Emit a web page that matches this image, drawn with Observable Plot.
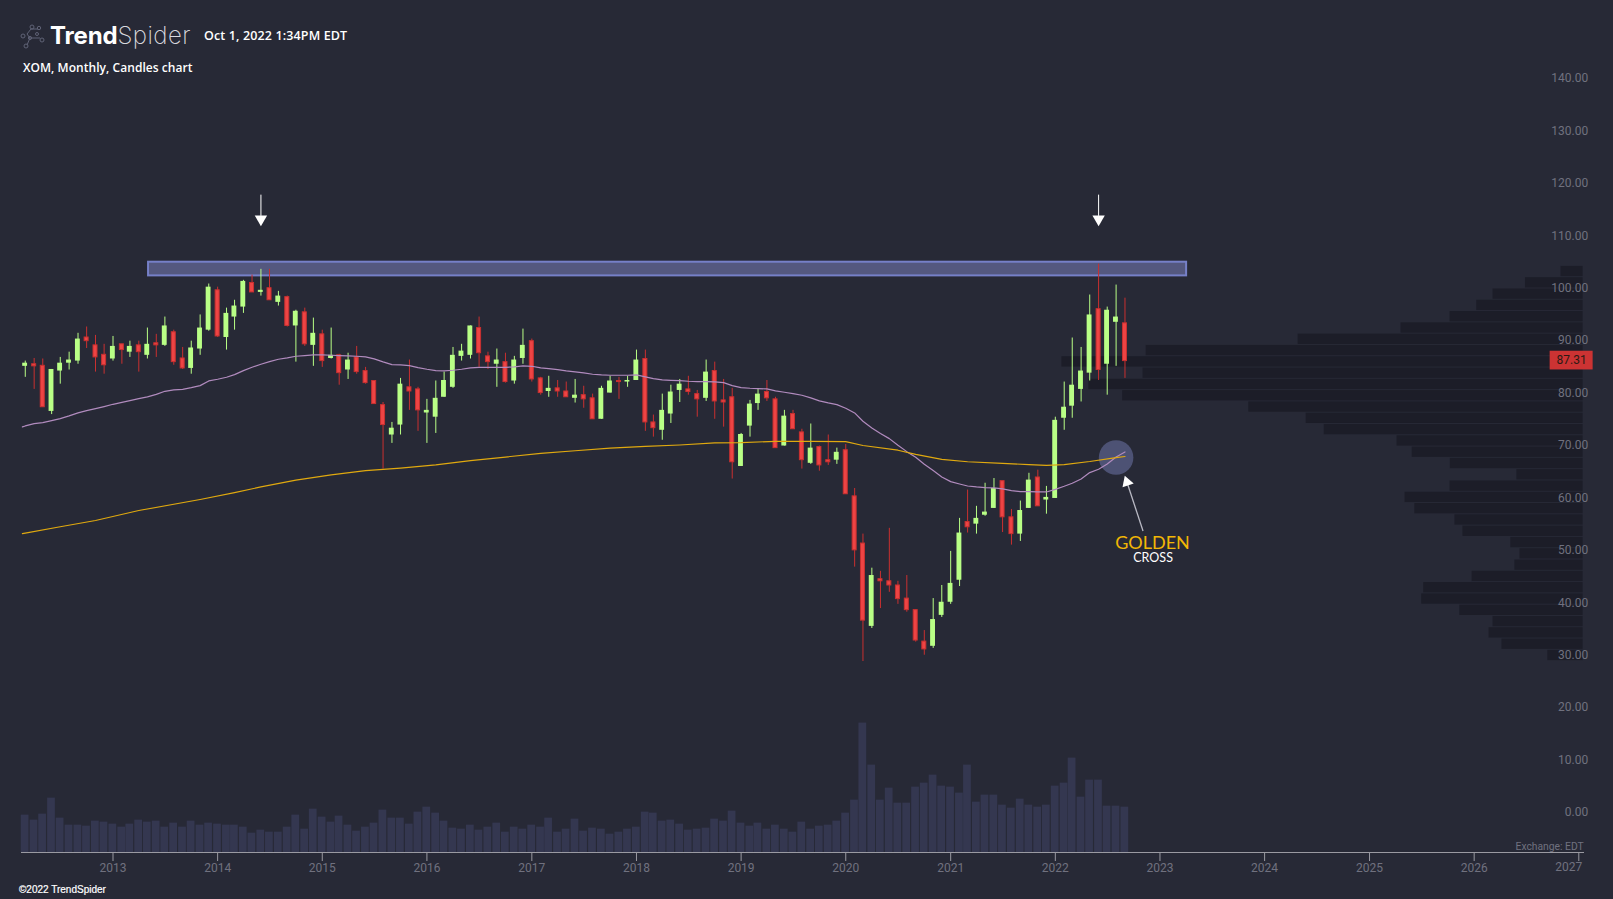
<!DOCTYPE html>
<html><head><meta charset="utf-8">
<script src="https://cdn.jsdelivr.net/npm/d3@7"></script>
<script src="https://cdn.jsdelivr.net/npm/@observablehq/plot@0.6"></script>
<style>
html,body{margin:0;padding:0;background:#272936;width:1613px;height:899px;overflow:hidden}
#wrap{position:relative;width:1613px;height:899px}
.h{position:absolute;white-space:nowrap;color:#fff}
</style></head><body>
<div id="wrap">
<div id="chart"></div>
<svg class="h" style="left:18px;top:24px" width="28" height="26" viewBox="0 0 28 26" fill="none" stroke="#5f6276" stroke-width="1">
<path d="M9 10 L13 5 M9 10 L12 14 M12 14 L9 21 M12 14 L22 14 M13 5 L20 5"/>
<circle cx="5" cy="12" r="2"/><circle cx="14" cy="3" r="2"/><circle cx="21" cy="4" r="1.7"/><circle cx="12" cy="14" r="1.6"/><circle cx="8" cy="22" r="2"/><circle cx="24" cy="16" r="2"/><circle cx="19" cy="10" r="1.5"/>
</svg>
<div class="h" style="left:50px;top:21px;font:700 24px/30px Inter,'Open Sans';letter-spacing:-.15px">Trend<span style="font-weight:200;color:#d8d8de;letter-spacing:.45px">Spider</span></div>
<div class="h" style="left:204px;top:27px;font:600 12.5px/18px 'Open Sans';letter-spacing:.13px">Oct 1, 2022 1:34PM EDT</div>
<div class="h" style="left:23px;top:59px;font:600 12px/18px 'Open Sans';letter-spacing:.05px">XOM, Monthly, Candles chart</div>
<div class="h" style="left:19px;top:883px;font:400 10px/14px 'Liberation Sans';-webkit-text-stroke:.2px #fff">©2022 TrendSpider</div>
</div>
<script>
const opens=[85.1,85.5,85.2,76.5,84.2,85.7,86.1,90.6,89.1,87.3,86.5,89.3,87.8,89.1,87.2,89.5,89.1,91.6,86.6,84.7,88.4,92,99.6,90.6,94.5,96.4,101,99.2,100,97.3,98.3,92.8,95.4,89.1,91.2,86.6,87.2,84.4,86.8,84.2,82.3,77.7,72,73.9,81.1,80.7,76.2,75.4,79.2,81.1,87,87.2,92.4,87,85.5,85.9,82.3,86.6,89.9,82.8,80.3,80.9,80.3,79,79.6,79,75,80,82.3,82.1,82.4,86.5,74.4,72.9,76,80.5,80.7,79.8,79,84.2,78.6,79.2,66,73.7,78,80.2,78.8,69.9,76,72.5,66.6,69.7,67.2,67.2,69.1,60.3,51.3,35.5,44.5,44.1,43.3,40.8,38.6,32.6,31.7,37.6,40.1,44.3,55.4,55,56.7,58,63.2,56.3,53.1,58,63.9,59.6,59.9,75.2,77.5,80.7,83.8,96,85.5,93.5,93.3];
const highs=[86.1,86.6,86.5,84.5,86.8,87.8,91.4,92.6,91,89.3,90.8,89.3,89.9,89.9,92.4,91.2,94.5,92,88.7,89.9,94.9,100.8,100.2,96.2,97.7,101.5,102.5,103.6,103.6,99.4,98.5,95.8,96.2,94.3,92,92.4,87.4,87.6,88.9,84.9,82.4,78.2,74.4,82.8,86.3,81.1,78.8,82.3,84,88.7,89.3,92.8,94.5,87.8,88.4,87.6,87,92.2,90.3,83,83.2,82.4,82.1,82.6,81.3,79.8,81.3,83.2,83,83.2,88.2,88.2,75.8,79.8,81.5,82.6,83.2,80.5,86.3,85.9,82.6,80.9,72.3,78.6,80.7,82.4,79.2,76.7,76.7,73.1,74.1,69.9,72,69.5,70.2,61.8,53.1,46.6,46,54.2,44.1,45.2,38.7,34.7,40.8,43.3,49.8,56.1,61.5,58.4,62.8,63.7,63.2,57.8,59.4,64.7,65.3,62.2,75.4,82.1,90.5,88.7,98.7,104.6,96.4,100.6,98.1];
const lows=[83,80.7,77.3,75.9,81.7,84.4,85.5,88.5,84,83.6,86.1,85.5,86.8,84,86.5,86.8,88.9,85.3,84.5,83.6,87.2,91.8,90.6,88.2,92,95.2,99.2,98.5,97.7,96.6,92.6,85.9,88.9,85.1,84.9,86.5,81.5,82.6,83.6,81.7,77.9,65.5,70.4,72,76.7,72.7,70.4,72.3,79.2,80.9,86.1,86.5,84.9,84.5,81.1,81.9,81.7,85.5,82.1,79.6,79.2,79.2,79.2,78.1,77.1,75,75,80,78.8,81.1,82.4,72.7,71.6,71,74.2,78.2,79.6,75.4,78.4,75,73.5,63.6,66,71.6,76.7,78.4,69.5,69.9,73.1,65.5,66.4,65.1,66.2,66.4,60.7,46.8,28.8,35.1,38.9,42,39.7,38.2,32.5,30,31.3,37.2,39.7,43.1,53.3,53.1,56.5,58,53.4,51,51.7,58,58.4,56.9,59.9,72.9,75.2,78.3,82.3,82.4,79.6,85.1,82.8];
const closes=[85.7,85.1,77.3,84.5,85.7,86.3,90.3,89.9,86.8,85.3,88.9,88.2,88.9,87.8,89.3,89.1,92.8,85.9,84.7,88.6,92.4,100.2,90.8,95.2,96.6,101.3,99.2,99.6,97.7,98.5,92.8,95.6,89.3,91.4,86.1,87.2,83.8,86.3,84,81.9,77.9,73.9,73.3,81.7,80.3,76.7,76.7,79,82.4,87.2,88,92.8,87.6,85.9,86.3,82.1,86.3,89.1,82.6,80,80.9,80.3,79.2,79.6,78.8,75,80.9,82.3,82.1,82.4,86.3,74.4,73.3,76.7,80.2,81.7,80.2,78.8,84,78.4,78.2,66.8,72.1,77.9,79.8,79,69.5,75.6,73.1,67.2,69.5,66.2,66.8,68.7,60.7,50,36.6,45.2,44.1,43.3,40.7,38.6,32.8,31.1,36.8,40.1,43.7,53.3,54.4,56.1,57.3,61.8,56.3,53.1,57.6,63.4,58.4,60.1,74.8,77.3,81.5,84.2,94.9,84.4,95.8,94.5,86.1];
const volumes=[224,194,230,326,206,164,164,158,188,182,170,152,170,194,182,188,152,176,152,188,164,176,170,164,164,152,116,134,122,122,152,224,140,260,212,182,218,164,128,152,176,254,206,206,170,242,272,236,188,146,140,164,134,152,176,122,152,140,164,152,206,122,140,200,128,146,140,110,122,140,152,242,236,188,194,170,134,140,146,200,188,248,176,158,176,140,164,140,122,182,140,158,164,188,236,314,776,524,314,386,296,296,392,416,464,398,392,356,524,302,344,344,284,266,320,284,272,284,398,416,566,332,434,434,278,278,272];
const fastMA=[73.73,74.17,74.36,74.75,75.13,75.64,76.21,76.65,77.03,77.42,77.86,78.24,78.56,78.94,79.26,79.74,80.34,80.6,80.72,81.04,81.42,82.32,82.63,83.02,83.52,84.29,84.92,85.5,86,86.45,86.7,87.02,87.15,87.28,87.28,87.21,87.15,87.09,87.02,86.9,86.51,85.94,85.43,85.37,85.24,84.86,84.54,84.29,84.22,84.35,84.54,84.8,84.92,84.92,84.92,84.92,84.99,85.18,85.11,84.8,84.67,84.48,84.22,84.03,83.84,83.59,83.46,83.4,83.4,83.4,83.46,83.08,82.76,82.51,82.44,82.38,82.25,82.19,82.19,82.12,82,81.43,81.04,80.92,80.85,80.79,80.41,80.16,79.9,79.58,79.08,78.5,78.12,77.8,77.1,76.21,74.62,73.35,72.27,71.31,70.04,68.83,67.75,66.42,65.21,64,63.11,62.66,62.28,62.09,61.96,61.9,61.71,61.39,61.2,61.2,61.14,61.14,61.64,62.22,62.79,63.62,64.83,65.46,66.48,67.82,68.77];
const slowMonths=[0,4,8,13,20,24,27,31,35,39,43,47,51,55,59,63,67,71,75,79,82,86,90,94,96,100,102,105,108,112,115,117,119,122,125,126];
const slowMA=[53.3,54.5,55.7,57.6,59.7,61,62.1,63.4,64.4,65.2,65.7,66.3,67.1,67.8,68.5,69,69.5,69.85,70.1,70.5,70.55,70.8,70.77,70.74,70,69.1,68.3,67.35,66.9,66.6,66.35,66.2,66.35,66.95,67.7,67.9];
const profile=[66,172,270,319,399,546,854,1310,1563,1320,1482,1381,1002,830,776,558,512,398,198,399,534,504,384,360,216,189,204,332,478,484,369,270,282,243,105];
const yearLabels=d3.range(2013,2028);
const priceLabels=d3.range(0,150,10);
const lineStart=new Date("2012-02-20"), fastStart=73.54, slowStart=53.2;

const month=i=>new Date(Date.UTC(2012,2+i,1));
const bars=opens.map((o,i)=>({date:month(i),o,h:highs[i],l:lows[i],c:closes[i],v:volumes[i],ma:fastMA[i],up:closes[i]>=o}));
const up=bars.filter(d=>d.up), down=bars.filter(d=>!d.up);
const day=(d,n)=>d3.utcDay.offset(d,n);

const volumeBase=-7.63, priceUnitsPerVolume=1/31.44;
const profileTop=104.26, profileStep=2.154, profileEdge=new Date("2027-01-16"), daysPerProfile=1.1628;
const rows=profile.map((v,i)=>({top:profileTop-i*profileStep,bottom:profileTop-(i+1)*profileStep,left:day(profileEdge,-v*daysPerProfile)}));
const fast=[{date:lineStart,ma:fastStart},...bars];
const slow=[{date:lineStart,v:slowStart},...slowMonths.map((m,i)=>({date:month(m),v:slowMA[i]}))];
const bg="#272936", green="#B9FF86", red="#EE4444", redDark="#C93030";
const axisGrey="#70717f", axisLine="#9a9aa2";

const chart=Plot.plot({
  width:1613,height:899,
  marginLeft:21,marginRight:30,marginTop:0,marginBottom:47,
  style:{background:bg,fontFamily:"Roboto",display:"block"},
  x:{type:"utc",domain:[new Date("2013-01-01"),new Date("2027-01-01")],range:[112.5,1578.3]},
  y:{type:"linear",domain:[0,140],range:[812,78]},
  marks:[
    Plot.rect(rows,{x1:"left",x2:()=>profileEdge,y1:"bottom",y2:"top",fill:"#1c1d28",insetTop:.5,insetBottom:.5}),
    Plot.rect(bars,{x1:d=>day(d.date,-13.5),x2:d=>day(d.date,13.5),y1:()=>volumeBase,y2:d=>volumeBase+d.v*priceUnitsPerVolume,fill:"#343750"}),
    Plot.axisY({anchor:"right",ticks:priceLabels,tickSize:0,tickPadding:4.7,textAnchor:"end",tickFormat:d3.format(".2f"),label:null,fontSize:12,fill:axisGrey,stroke:"none"}),
    Plot.frame({anchor:"bottom",stroke:axisLine,strokeWidth:1}),
    Plot.axisX({anchor:"bottom",ticks:yearLabels.map(y=>new Date(Date.UTC(y,0,1))),tickSize:9,tickPadding:2,tickFormat:d=>d.getUTCFullYear()<2027?d3.utcFormat("%Y")(d):"",label:null,fontSize:12,fill:axisGrey,stroke:axisLine}),
    Plot.text(["Exchange: EDT"],{x:()=>new Date("2027-01-18"),y:()=>-6.5,text:d=>d,textAnchor:"end",fontSize:10.3,fill:axisGrey}),
    Plot.text(["2027"],{x:()=>new Date("2026-12-28"),y:()=>volumeBase,dy:15,text:d=>d,fontSize:12,fill:axisGrey,dx:-9}),
    Plot.rect([{}],{x1:()=>new Date("2013-05-05"),x2:()=>new Date("2023-04-04"),y1:()=>102.35,y2:()=>104.96,fill:"#54587f",stroke:"#7680c8",strokeWidth:2}),
    Plot.ruleX(up,{x:"date",y1:"l",y2:"h",stroke:green,strokeWidth:1}),
    Plot.ruleX(down,{x:"date",y1:"l",y2:"h",stroke:redDark,strokeWidth:1}),
    Plot.rect(up,{x1:d=>day(d.date,-8.5),x2:d=>day(d.date,8.5),y1:"o",y2:"c",fill:green}),
    Plot.rect(down,{x1:d=>day(d.date,-7),x2:d=>day(d.date,7),y1:"o",y2:"c",fill:red,stroke:redDark,strokeWidth:1}),
    Plot.dot([{}],{x:()=>new Date("2022-08-01"),y:()=>67.7,r:17.3,fill:"#4d5274"}),
    Plot.line(fast,{x:"date",y:"ma",stroke:"#b18bbe",strokeWidth:1.2}),
    Plot.line(slow,{x:"date",y:"v",stroke:"#e0a90f",strokeWidth:1.2}),
    Plot.ruleX([month(27),month(123)],{x:d=>d,y1:()=>113.7,y2:()=>117.75,stroke:"#fff",strokeWidth:1}),
    Plot.dot([month(27),month(123)],{x:d=>d,y:()=>113.2,symbol:"triangle",rotate:180,r:4.6,fill:"#fff"}),
    Plot.link([{}],{x1:()=>new Date("2022-11-03"),y1:()=>53.68,x2:()=>new Date("2022-09-08"),y2:()=>63,stroke:"#b9b9c4",strokeWidth:1.3}),
    Plot.dot([{}],{x:()=>new Date("2022-09-08"),y:()=>63,symbol:"triangle",rotate:-19,r:4.4,fill:"#fff"}),
    Plot.text(["GOLDEN"],{x:()=>new Date("2022-12-06"),y:()=>51.4,text:d=>d,fill:"#f2b705",fontSize:18,fontFamily:"Lato"}),
    Plot.text(["CROSS"],{x:()=>new Date("2022-12-08"),y:()=>48.5,text:d=>d,fill:"#fff",fontSize:12.5,fontFamily:"Lato"}),
    Plot.rect([{}],{x1:()=>new Date("2026-09-23"),x2:()=>new Date("2027-02-20"),y1:()=>84.41,y2:()=>87.98,fill:"#cc3333"}),
    Plot.text(["87.31"],{x:()=>new Date("2026-12-07"),y:()=>86.2,text:d=>d,fill:"#2b1a14",fontSize:12})
  ]
});
document.getElementById("chart").append(chart);
</script>
</body></html>
